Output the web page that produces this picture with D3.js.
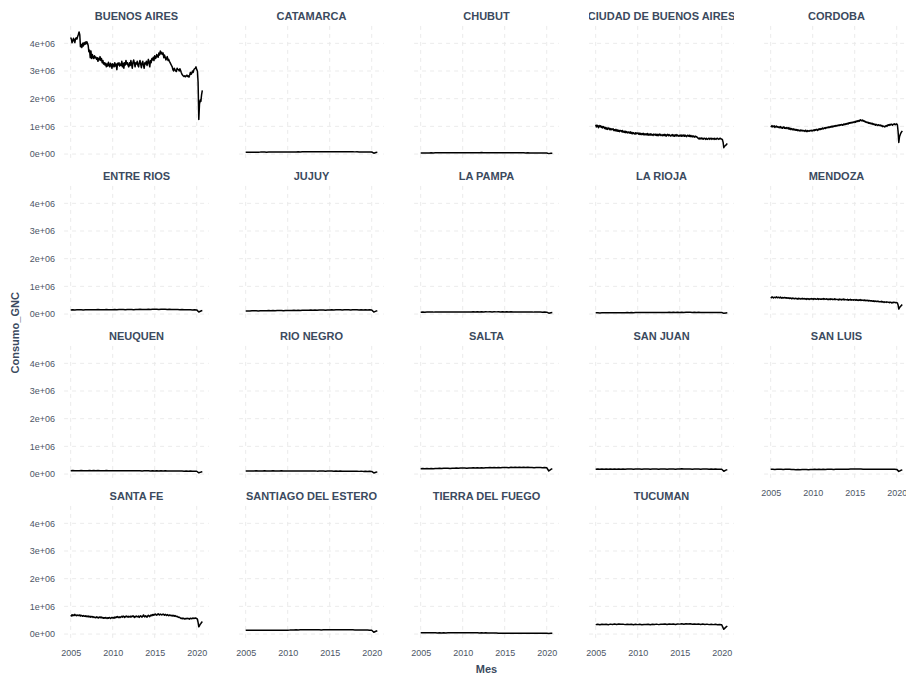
<!DOCTYPE html>
<html>
<head>
<meta charset="utf-8">
<script src="https://cdn.jsdelivr.net/npm/d3@7"></script>
<style>
  body { margin: 0; background: #ffffff; }
  svg { display: block; }
</style>
</head>
<body>
<svg id="chart" width="906" height="677"></svg>
<script>
// GNC consumption per province, thousands of m³.
// Monthly series: Jan 2005 – Sep 2020 (one row per year).
const buenosAires = [
  4210, 4150, 4020, 4080, 4180, 4120, 4030, 4170, 4200, 4150, 4250, 4320,
  4410, 4300, 3880, 3950, 3850, 4000, 3900, 4020, 3960, 4050, 3980, 4060,
  4000, 3920, 3700, 3750, 3480, 3720, 3450, 3600, 3500, 3450, 3550, 3480,
  3500, 3420, 3480, 3350, 3460, 3400, 3520, 3380, 3450, 3300, 3380, 3250,
  3300, 3220, 3280, 3150, 3250, 3180, 3320, 3200, 3150, 3280, 3230, 3100,
  3260, 3200, 3150, 3300, 3180, 3250, 3050, 3280, 3220, 3300, 3180, 3250,
  3200, 3350, 3150, 3280, 3100, 3300, 3220, 3380, 3250, 3300, 3200, 3150,
  3300, 3200, 3380, 3250, 3100, 3320, 3400, 3280, 3150, 3300, 3250, 3350,
  3200, 3150, 3300, 3380, 3250, 3120, 3280, 3350, 3200, 3100, 3300, 3250,
  3350, 3200, 3300, 3420, 3280, 3150, 3380, 3300, 3450, 3400, 3500, 3380,
  3550, 3450, 3480, 3600, 3520, 3500, 3650, 3580, 3720, 3620, 3680, 3600,
  3650, 3480, 3580, 3500, 3400, 3450, 3520, 3380, 3420, 3350, 3300, 3250,
  3200, 3150, 3050, 3000, 3100, 3050, 3000, 2980, 3100, 3060, 3050, 3000,
  3080, 3020, 2950, 2880, 2850, 2820, 2800, 2830, 2790, 2820, 2850, 2800,
  2830, 2780, 2850, 2950, 2880, 2920, 3000, 2950, 3050, 3080, 3100, 3150,
  3050, 3000, 2600, 1250, 1800, 1950, 1900, 2150, 2300
];
const ciudadBuenosAires = [
  1060, 980, 1040, 1010, 950, 1030, 990, 1020, 960, 1000, 940, 990,
  970, 920, 960, 900, 950, 890, 930, 940, 880, 920, 870, 910,
  890, 910, 850, 880, 840, 890, 830, 870, 820, 860, 810, 850,
  840, 810, 850, 790, 820, 780, 830, 770, 810, 790, 760, 800,
  790, 750, 800, 740, 780, 730, 770, 750, 720, 770, 730, 760,
  750, 720, 760, 710, 750, 700, 740, 710, 750, 690, 730, 700,
  730, 690, 740, 680, 720, 690, 730, 680, 720, 690, 670, 720,
  710, 680, 720, 670, 710, 660, 700, 720, 670, 710, 680, 660,
  700, 670, 710, 660, 700, 650, 690, 710, 660, 700, 670, 650,
  690, 660, 700, 650, 690, 640, 680, 700, 650, 690, 660, 640,
  680, 650, 690, 640, 680, 650, 690, 640, 680, 650, 630, 680,
  670, 640, 680, 630, 670, 640, 620, 660, 630, 610, 650, 620,
  630, 600, 580, 550, 580, 540, 570, 580, 540, 570, 540, 570,
  560, 530, 570, 540, 530, 560, 570, 530, 560, 570, 530, 560,
  560, 530, 570, 540, 530, 560, 570, 540, 530, 560, 570, 540,
  540, 520, 430, 230, 280, 300, 320, 350, 380
];
const cordoba = [
  1010, 990, 1030, 980, 1000, 1020, 960, 990, 1010, 970, 990, 960,
  980, 950, 990, 940, 970, 930, 960, 980, 930, 950, 920, 960,
  940, 910, 950, 900, 930, 880, 920, 900, 870, 910, 880, 860,
  890, 860, 880, 840, 870, 850, 830, 870, 840, 860, 830, 850,
  840, 820, 860, 830, 810, 850, 830, 820, 850, 840, 860, 830,
  850, 870, 840, 880, 860, 890, 870, 850, 900, 880, 910, 890,
  920, 900, 940, 910, 930, 950, 920, 960, 940, 970, 950, 980,
  960, 990, 970, 1000, 980, 1010, 990, 1020, 1000, 1030, 1010, 1040,
  1020, 1050, 1030, 1060, 1040, 1070, 1050, 1040, 1080, 1060, 1090, 1070,
  1100, 1080, 1110, 1090, 1130, 1110, 1140, 1120, 1150, 1130, 1160, 1140,
  1170, 1150, 1190, 1170, 1200, 1180, 1210, 1190, 1240, 1220, 1200, 1230,
  1190, 1210, 1170, 1180, 1150, 1160, 1130, 1150, 1110, 1130, 1100, 1120,
  1090, 1110, 1070, 1090, 1060, 1080, 1040, 1070, 1050, 1030, 1060, 1040,
  1030, 1050, 1010, 1030, 990, 1010, 1000, 980, 1010, 1030, 1000, 1040,
  1060, 1030, 1070, 1050, 1080, 1060, 1040, 1080, 1070, 1090, 1060, 1080,
  1090, 1050, 820, 420, 620, 700, 760, 800, 840
];
const mendoza = [
  610, 590, 620, 600, 580, 610, 600, 590, 620, 600, 590, 610,
  600, 580, 610, 590, 570, 600, 590, 580, 600, 590, 570, 590,
  580, 570, 590, 560, 580, 570, 550, 580, 560, 570, 550, 560,
  570, 550, 560, 540, 570, 550, 560, 540, 550, 570, 540, 550,
  560, 540, 550, 530, 560, 540, 550, 530, 550, 540, 560, 540,
  550, 530, 560, 540, 550, 530, 540, 560, 530, 550, 540, 530,
  550, 530, 540, 560, 530, 550, 540, 530, 550, 540, 520, 540,
  540, 520, 550, 530, 540, 520, 530, 550, 520, 540, 530, 520,
  530, 510, 540, 520, 530, 510, 530, 520, 540, 510, 530, 520,
  520, 510, 530, 500, 520, 510, 530, 500, 520, 510, 500, 520,
  510, 500, 520, 500, 510, 490, 510, 500, 520, 490, 510, 500,
  500, 490, 510, 480, 500, 490, 480, 500, 470, 490, 480, 470,
  480, 470, 460, 480, 450, 470, 460, 450, 470, 450, 460, 440,
  450, 440, 460, 430, 450, 440, 420, 440, 430, 420, 440, 430,
  420, 430, 410, 430, 420, 400, 420, 410, 430, 420, 410, 420,
  410, 400, 330, 180, 230, 260, 290, 320, 340
];
const santaFe = [
  680, 650, 700, 660, 690, 670, 710, 680, 660, 690, 670, 680,
  670, 690, 650, 680, 660, 640, 670, 650, 640, 660, 630, 650,
  640, 620, 650, 630, 610, 640, 620, 630, 600, 620, 610, 590,
  600, 620, 590, 610, 580, 600, 620, 590, 610, 580, 600, 570,
  590, 570, 600, 580, 560, 590, 570, 600, 580, 560, 590, 600,
  580, 600, 570, 610, 590, 620, 600, 630, 610, 590, 620, 600,
  620, 640, 610, 650, 630, 600, 640, 620, 650, 630, 610, 640,
  630, 610, 650, 620, 640, 660, 630, 600, 640, 620, 650, 630,
  620, 650, 600, 640, 660, 630, 610, 650, 690, 640, 620, 660,
  640, 610, 650, 680, 650, 630, 670, 690, 660, 700, 680, 710,
  690, 720, 700, 680, 710, 730, 700, 690, 720, 710, 690, 700,
  720, 700, 680, 710, 690, 670, 700, 680, 660, 690, 670, 680,
  670, 650, 680, 660, 640, 670, 650, 630, 640, 620, 600, 610,
  590, 570, 560, 580, 550, 570, 560, 540, 560, 550, 570, 560,
  550, 560, 540, 570, 560, 550, 570, 580, 560, 570, 580, 570,
  560, 540, 420, 260, 300, 350, 380, 420, 450
];

// Quarterly series: Jan / Apr / Jul / Oct of each year, plus Sep 2020.
const catamarca = [
  62, 65, 63, 66,  66, 68, 65, 69,  69, 71, 68, 72,  71, 73, 70, 74,
  73, 75, 72, 76,  75, 77, 74, 78,  77, 80, 76, 81,  80, 82, 79, 83,
  81, 84, 80, 85,  83, 86, 82, 86,  85, 87, 84, 86,  84, 85, 82, 83,
  81, 82, 79, 80,  78, 79, 76, 77,  76, 77, 75, 76,  74, 30, 55, 62
];
const chubut = [
  38, 40, 39, 41,  41, 42, 40, 43,  43, 44, 42, 45,  45, 46, 44, 47,
  46, 48, 45, 48,  47, 49, 46, 49,  48, 50, 47, 50,  49, 51, 48, 50,
  48, 50, 47, 49,  47, 48, 46, 47,  46, 47, 45, 46,  45, 45, 43, 44,
  43, 43, 41, 42,  41, 41, 39, 40,  38, 39, 37, 38,  37, 15, 26, 30
];
const entreRios = [
  150, 155, 148, 152,  152, 156, 149, 154,  154, 158, 151, 156,  155, 160, 152, 158,
  156, 161, 153, 159,  158, 163, 155, 161,  160, 165, 157, 163,  162, 167, 159, 165,
  164, 169, 161, 167,  166, 171, 163, 170,  169, 174, 166, 172,  170, 173, 165, 169,
  166, 168, 160, 163,  158, 160, 153, 156,  152, 155, 149, 153,  150, 75, 110, 125
];
const jujuy = [
  110, 114, 108, 116,  115, 118, 112, 120,  119, 122, 116, 124,  122, 126, 119, 127,
  125, 129, 122, 130,  128, 132, 125, 134,  132, 136, 129, 138,  136, 140, 133, 142,
  140, 144, 137, 146,  144, 148, 141, 150,  148, 152, 145, 154,  152, 155, 148, 156,
  153, 156, 149, 157,  152, 155, 147, 154,  150, 153, 145, 152,  148, 70, 105, 120
];
const laPampa = [
  68, 70, 67, 71,  70, 72, 69, 73,  72, 74, 71, 75,  73, 76, 72, 76,
  74, 77, 73, 77,  75, 78, 74, 78,  76, 79, 75, 79,  77, 80, 76, 80,
  78, 81, 77, 81,  78, 81, 76, 80,  77, 80, 75, 79,  76, 78, 73, 77,
  74, 76, 71, 75,  72, 74, 69, 72,  70, 72, 67, 70,  68, 32, 50, 58
];
const laRioja = [
  42, 44, 41, 45,  44, 46, 43, 47,  46, 48, 45, 49,  48, 50, 47, 51,
  50, 52, 49, 53,  52, 54, 51, 55,  54, 56, 53, 57,  56, 58, 55, 59,
  57, 59, 56, 60,  58, 60, 57, 61,  59, 61, 58, 62,  60, 61, 57, 60,
  59, 60, 56, 59,  58, 59, 55, 57,  56, 57, 54, 56,  55, 25, 40, 46
];
const neuquen = [
  120, 124, 118, 122,  121, 125, 119, 123,  122, 126, 120, 124,  121, 125, 119, 123,
  120, 124, 118, 122,  119, 123, 117, 121,  118, 122, 116, 120,  117, 121, 115, 119,
  116, 120, 114, 118,  115, 119, 113, 117,  114, 118, 112, 116,  112, 115, 109, 113,
  109, 112, 106, 110,  106, 109, 103, 107,  103, 106, 100, 104,  100, 45, 70, 80
];
const rioNegro = [
  110, 114, 108, 112,  111, 115, 109, 113,  112, 116, 110, 114,  112, 116, 110, 113,
  111, 115, 109, 113,  110, 114, 108, 112,  110, 113, 107, 111,  109, 112, 106, 110,
  108, 111, 105, 109,  107, 110, 104, 108,  106, 109, 103, 107,  104, 107, 101, 105,
  102, 105, 99, 103,  99, 102, 96, 100,  96, 99, 93, 97,  94, 40, 65, 78
];
const salta = [
  190, 196, 188, 198,  195, 201, 192, 203,  200, 206, 197, 208,  205, 211, 202, 213,
  210, 216, 207, 218,  214, 220, 211, 222,  218, 224, 215, 226,  222, 228, 219, 230,
  226, 232, 223, 234,  230, 236, 227, 238,  234, 240, 231, 242,  236, 241, 232, 243,
  237, 242, 233, 244,  235, 240, 230, 240,  232, 236, 227, 236,  230, 110, 170, 195
];
const sanJuan = [
  175, 180, 172, 178,  176, 181, 173, 179,  177, 182, 174, 180,  177, 182, 174, 180,
  178, 183, 175, 181,  178, 183, 175, 181,  179, 184, 176, 182,  179, 184, 176, 182,
  180, 185, 177, 183,  180, 185, 177, 183,  181, 190, 178, 184,  180, 184, 176, 182,
  179, 183, 175, 181,  178, 182, 173, 179,  176, 180, 171, 177,  175, 100, 140, 160
];
const sanLuis = [
  170, 172, 168, 171,  170, 172, 168, 171,  169, 171, 160, 165,  158, 165, 157, 163,
  160, 166, 158, 164,  166, 170, 166, 169,  168, 171, 167, 170,  169, 172, 168, 171,
  170, 173, 169, 172,  172, 175, 180, 182,  183, 184, 182, 183,  175, 174, 172, 173,
  172, 173, 171, 172,  171, 172, 170, 171,  170, 171, 169, 170,  168, 95, 135, 150
];
const santiagoDelEstero = [
  140, 141, 140, 141,  140, 141, 140, 141,  140, 141, 140, 141,  140, 141, 140, 141,
  140, 141, 140, 141,  141, 142, 150, 148,  152, 150, 153, 151,  152, 151, 153, 152,
  152, 153, 152, 153,  150, 152, 153, 152,  153, 152, 153, 152,  153, 152, 153, 152,
  153, 152, 153, 152,  150, 146, 148, 145,  148, 150, 146, 140,  135, 65, 100, 120
];
const tierraDelFuego = [
  45, 46, 45, 46,  45, 46, 44, 45,  40, 44, 38, 44,  40, 43, 44, 43,
  43, 44, 43, 44,  43, 42, 43, 42,  42, 43, 42, 43,  38, 42, 37, 42,
  41, 36, 41, 40,  38, 30, 32, 31,  31, 30, 31, 30,  30, 29, 30, 29,
  29, 28, 29, 28,  28, 27, 28, 27,  27, 26, 27, 26,  26, 22, 24, 25
];
const tucuman = [
  340, 352, 335, 355,  345, 356, 338, 358,  348, 360, 342, 362,  350, 358, 340, 355,
  345, 354, 336, 350,  340, 352, 334, 348,  342, 355, 337, 352,  346, 358, 340, 356,
  350, 362, 344, 360,  354, 366, 348, 364,  358, 370, 352, 368,  360, 372, 354, 366,
  356, 366, 348, 360,  348, 358, 340, 352,  340, 350, 332, 346,  335, 170, 250, 290
];

const provinces = [
  "BUENOS AIRES", "CATAMARCA", "CHUBUT", "CIUDAD DE BUENOS AIRES", "CORDOBA",
  "ENTRE RIOS", "JUJUY", "LA PAMPA", "LA RIOJA", "MENDOZA",
  "NEUQUEN", "RIO NEGRO", "SALTA", "SAN JUAN", "SAN LUIS",
  "SANTA FE", "SANTIAGO DEL ESTERO", "TIERRA DEL FUEGO", "TUCUMAN"
];
const provinceSeries = [
  buenosAires, catamarca, chubut, ciudadBuenosAires, cordoba,
  entreRios, jujuy, laPampa, laRioja, mendoza,
  neuquen, rioNegro, salta, sanJuan, sanLuis,
  santaFe, santiagoDelEstero, tierraDelFuego, tucuman
];

const xTickYears = [2005, 2010, 2015, 2020];
const yTickValues = [0, 1e6, 2e6, 3e6, 4e6];

// ---- dates for the two sampling schemes ----
const monthlyDates = d3.timeMonth.range(new Date(2005, 0, 1), new Date(2020, 9, 1));
const quarterlyDates = monthlyDates.filter((d, i, a) => i % 3 === 0 || i === a.length - 1);

const panels = provinces.map((name, i) => {
  const vals = provinceSeries[i];
  const dates = vals.length === monthlyDates.length ? monthlyDates : quarterlyDates;
  return {
    name,
    points: vals.map((v, j) => ({ date: dates[j], value: v * 1000 }))
  };
});

// ---- layout ----
const ncol = 5;
const panelW = 144.8, panelH = 133.8;
const colStep = 175, rowStep = 160;
const left0 = 64.1, top0 = 25.9;
const textDark = "#3b4a5e";
const tickGrey = "#4d5566";
const gridGrey = "#ebebeb";
const fontFamily = "'Liberation Sans', Arial, Helvetica, sans-serif";

// shared scales, padded 5% on each side
const allPts = panels.flatMap(p => p.points);
const [d0, d1] = d3.extent(allPts, d => d.date);
const dPad = (d1 - d0) * 0.05;
const x = d3.scaleTime()
  .domain([new Date(+d0 - dPad), new Date(+d1 + dPad)])
  .range([0, panelW]);

const [v0, v1] = d3.extent(allPts, d => d.value);
const vPad = (v1 - v0) * 0.05;
const y = d3.scaleLinear()
  .domain([v0 - vPad, v1 + vPad])
  .range([panelH, 0]);

const sciFormat = v => {
  if (v === 0) return "0e+00";
  const e = Math.floor(Math.log10(Math.abs(v)));
  const m = v / Math.pow(10, e);
  return `${+m.toFixed(2)}e+${String(e).padStart(2, "0")}`;
};

const xTickDates = xTickYears.map(yr => new Date(yr, 0, 1));

const svg = d3.select("#chart");
svg.append("rect").attr("width", 906).attr("height", 677).attr("fill", "#ffffff");

const defs = svg.append("defs");
const line = d3.line().x(d => x(d.date)).y(d => y(d.value));

panels.forEach((p, i) => {
  const col = i % ncol, row = Math.floor(i / ncol);
  const g = svg.append("g")
    .attr("transform", `translate(${left0 + col * colStep},${top0 + row * rowStep})`);

  // grid
  g.append("g").selectAll("line").data(yTickValues).join("line")
    .attr("x1", 0).attr("x2", panelW)
    .attr("y1", d => y(d)).attr("y2", d => y(d))
    .attr("stroke", gridGrey).attr("stroke-width", 1).attr("stroke-dasharray", "4,4");
  g.append("g").selectAll("line").data(xTickDates).join("line")
    .attr("x1", d => x(d)).attr("x2", d => x(d))
    .attr("y1", 0).attr("y2", panelH)
    .attr("stroke", gridGrey).attr("stroke-width", 1).attr("stroke-dasharray", "4,4");

  // series
  g.append("path").datum(p.points)
    .attr("d", line)
    .attr("fill", "none")
    .attr("stroke", "#000000")
    .attr("stroke-width", 1.5)
    .attr("stroke-linejoin", "round");

  // strip title, clipped to the panel width
  const clipId = `strip-clip-${i}`;
  defs.append("clipPath").attr("id", clipId)
    .append("rect").attr("x", 0).attr("y", -25).attr("width", panelW).attr("height", 25);
  g.append("g").attr("clip-path", `url(#${clipId})`)
    .append("text")
    .attr("x", panelW / 2).attr("y", -6.3)
    .attr("text-anchor", "middle")
    .attr("font-family", fontFamily)
    .attr("font-size", 11).attr("font-weight", "bold")
    .attr("fill", textDark)
    .text(p.name);

  // y axis on the first column
  if (col === 0) {
    const ay = g.append("g")
      .call(d3.axisLeft(y).tickValues(yTickValues).tickFormat(sciFormat).tickSize(0).tickPadding(9.1));
    ay.select(".domain").remove();
    ay.attr("font-family", fontFamily).attr("font-size", 9);
    ay.selectAll("text").attr("fill", tickGrey);
  }

  // x axis on the lowest panel of each column
  if (i + ncol >= panels.length) {
    const ax = g.append("g").attr("transform", `translate(0,${panelH})`)
      .call(d3.axisBottom(x).tickValues(xTickDates).tickFormat(d3.timeFormat("%Y")).tickSize(0).tickPadding(9.9));
    ax.select(".domain").remove();
    ax.attr("font-family", fontFamily).attr("font-size", 9);
    ax.selectAll("text").attr("fill", tickGrey);
  }
});

// axis titles
const plotLeft = left0, plotRight = left0 + (ncol - 1) * colStep + panelW;
const plotTop = top0, plotBottom = top0 + 3 * rowStep + panelH;

svg.append("text")
  .attr("x", (plotLeft + plotRight) / 2).attr("y", 673)
  .attr("text-anchor", "middle")
  .attr("font-family", fontFamily).attr("font-size", 11).attr("font-weight", "bold")
  .attr("fill", textDark)
  .text("Mes");

svg.append("text")
  .attr("transform", `translate(19,${(plotTop + plotBottom) / 2}) rotate(-90)`)
  .attr("text-anchor", "middle")
  .attr("font-family", fontFamily).attr("font-size", 11).attr("font-weight", "bold")
  .attr("fill", textDark)
  .text("Consumo_GNC");
</script>
</body>
</html>
